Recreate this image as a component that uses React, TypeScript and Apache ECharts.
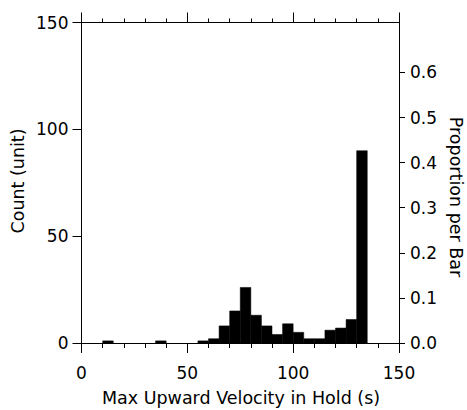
import React, { useEffect, useRef } from "react";
import * as echarts from "echarts";

const BIN_WIDTH = 5;
const binStarts = [10, 35, 55, 60, 65, 70, 75, 80, 85, 90, 95, 100, 105, 110, 115, 120, 125, 130];
const counts = [1, 1, 1, 2, 8, 15, 26, 13, 8, 4, 9, 5, 2, 2, 6, 7, 11, 90];
const xTicks = [0, 50, 100, 150];
const countTicks = [0, 50, 100, 150];
const proportionTicks = [0, 0.1, 0.2, 0.3, 0.4, 0.5, 0.6];

const FONT = "DejaVu Sans";

export default function App() {
  const ref = useRef<HTMLDivElement>(null);
  useEffect(() => {
    if (!ref.current) return;
    const chart = echarts.init(ref.current, null, { renderer: "svg" });
    const total = counts.reduce((a, b) => a + b, 0);
    const data = binStarts.map((s, i) => [s, s + BIN_WIDTH, counts[i]]);
    const lineStyle = { color: "#000", width: 1 };
    const textStyle = { color: "#000", fontFamily: FONT, fontSize: 17 };
    const xMin = xTicks[0];
    const xMax = xTicks[xTicks.length - 1];
    chart.setOption({
      animation: false,
      backgroundColor: "#fff",
      grid: { left: 81.5, right: 68, top: 22.5, bottom: 67, containLabel: false },
      xAxis: [
        {
          type: "value",
          position: "bottom",
          min: xMin,
          max: xMax,
          interval: 50,
          axisLine: { show: true, onZero: false, lineStyle },
          axisTick: { show: true, inside: false, length: 10, lineStyle },
          minorTick: { show: true, splitNumber: 5, length: 5, lineStyle },
          axisLabel: { ...textStyle, margin: 21 },
          splitLine: { show: false },
        },
        {
          type: "value",
          position: "top",
          min: xMin,
          max: xMax,
          interval: 50,
          axisLine: { show: true, onZero: false, lineStyle },
          axisTick: { show: true, inside: false, length: 10, lineStyle },
          minorTick: { show: true, splitNumber: 5, length: 4, lineStyle },
          axisLabel: { show: false },
          splitLine: { show: false },
        },
      ],
      yAxis: [
        {
          type: "value",
          position: "left",
          min: countTicks[0],
          max: countTicks[countTicks.length - 1],
          interval: 50,
          axisLine: { show: true, onZero: false, lineStyle },
          axisTick: { show: true, inside: false, length: 9, lineStyle },
          axisLabel: { ...textStyle, margin: 13 },
          splitLine: { show: false },
        },
        {
          type: "value",
          position: "right",
          min: 0,
          max: countTicks[countTicks.length - 1] / total,
          axisLine: { show: true, onZero: false, lineStyle },
          axisTick: { show: true, inside: false, length: 6, lineStyle, customValues: proportionTicks },
          axisLabel: {
            ...textStyle,
            margin: 11,
            customValues: proportionTicks,
            formatter: (v: number) => v.toFixed(1),
          },
          splitLine: { show: false },
        },
      ],
      series: [
        {
          type: "custom",
          xAxisIndex: 0,
          yAxisIndex: 0,
          data,
          encode: { x: [0, 1], y: 2 },
          renderItem: (params: any, api: any) => {
            const p0 = api.coord([api.value(0), api.value(2)]);
            const p1 = api.coord([api.value(1), 0]);
            return {
              type: "rect",
              shape: { x: p0[0], y: p0[1], width: p1[0] - p0[0], height: p1[1] - p0[1] },
              style: { fill: "#000", stroke: "#000", lineWidth: 0.5 },
            };
          },
        },
      ],
      graphic: [
        {
          type: "text",
          x: 241,
          y: 398,
          style: {
            text: "Max Upward Velocity in Hold (s)",
            fill: "#000",
            font: `17.5px "${FONT}"`,
            align: "center",
            verticalAlign: "middle",
          },
        },
        {
          type: "text",
          x: 18,
          y: 181,
          rotation: Math.PI / 2,
          style: {
            text: "Count (unit)",
            fill: "#000",
            font: `17.5px "${FONT}"`,
            align: "center",
            verticalAlign: "middle",
          },
        },
        {
          type: "text",
          x: 456,
          y: 197,
          rotation: -Math.PI / 2,
          style: {
            text: "Proportion per Bar",
            fill: "#000",
            font: `17.5px "${FONT}"`,
            align: "center",
            verticalAlign: "middle",
          },
        },
      ],
    });
    return () => chart.dispose();
  }, []);
  return (
    <div
      ref={ref}
      style={{ position: "fixed", left: 0, top: 0, width: 467, height: 410 }}
    />
  );
}
